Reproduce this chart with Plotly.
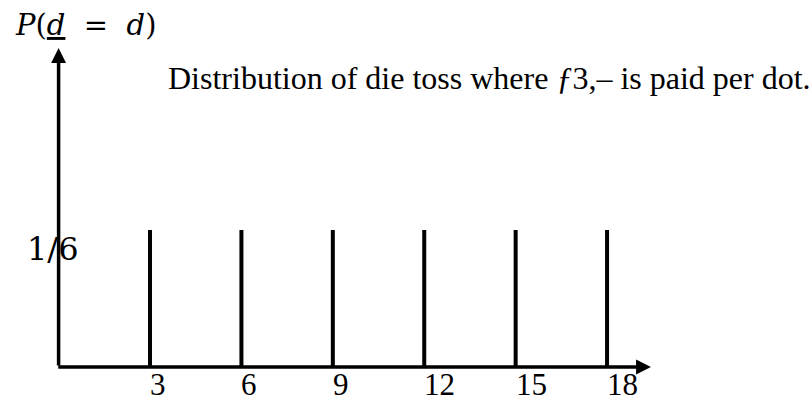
import plotly.graph_objects as go

# Payout outcomes (3 per dot of a fair die) and their probabilities
outcomes = [3, 6, 9, 12, 15, 18]
probabilities = [1 / 6, 1 / 6, 1 / 6, 1 / 6, 1 / 6, 1 / 6]
tick_labels = ["3", "6", "9", "12", "15", "18"]
prob_label = "1/6"
y_title = "<i>P</i>(<u><i>d</i></u>&nbsp; =&nbsp; <i>d</i>)"
caption = "Distribution of die toss where <i>ƒ</i>3,– is paid per dot."

W, H = 812, 399
SERIF = "Liberation Serif, Times New Roman, serif"
MATH = "DejaVu Serif, serif"

# vertical spikes for each outcome
xs, ys = [], []
for x, p in zip(outcomes, probabilities):
    xs += [x, x, None]
    ys += [0, p, None]

fig = go.Figure()
fig.add_trace(go.Scatter(x=xs, y=ys, mode="lines",
                         line=dict(color="black", width=4),
                         hoverinfo="skip", showlegend=False))

annotations = []
# axes drawn as arrows from the origin
x_end, y_end = 19.44, 0.388
annotations.append(dict(x=0, y=y_end, ax=0, ay=0, xref="x", yref="y",
                        axref="x", ayref="y", text="", showarrow=True,
                        arrowhead=2, arrowsize=0.85, arrowwidth=3.5,
                        arrowcolor="black", standoff=0, startstandoff=0))
annotations.append(dict(x=x_end, y=0, ax=-0.06, ay=0, xref="x", yref="y",
                        axref="x", ayref="y", text="", showarrow=True,
                        arrowhead=2, arrowsize=0.85, arrowwidth=3.5,
                        arrowcolor="black", standoff=0, startstandoff=0))

# tick labels, left-aligned at each spike
for x, t in zip(outcomes, tick_labels):
    annotations.append(dict(x=x, y=0, xref="x", yref="y", text=t,
                            showarrow=False, xanchor="left", yanchor="top",
                            xshift=-2, yshift=2,
                            font=dict(family=SERIF, size=31, color="black")))

# probability level label
annotations.append(dict(x=0, y=probabilities[0], xref="x", yref="y",
                        text=prob_label, showarrow=False, xanchor="center",
                        yanchor="middle", xshift=-6, yshift=-19,
                        font=dict(family=MATH, size=32, color="black")))

# vertical axis title
annotations.append(dict(x=13 / W, y=1 - 6 / H, xref="paper", yref="paper",
                        text=y_title, showarrow=False, xanchor="left",
                        yanchor="top",
                        font=dict(family=MATH, size=29, color="black")))

# caption
annotations.append(dict(x=166 / W, y=1 - 58 / H, xref="paper", yref="paper",
                        text=caption, showarrow=False, xanchor="left",
                        yanchor="top",
                        font=dict(family=SERIF, size=32, color="black")))

px_per_x = 30.47
x0_px = 58.6
px_per_y = 822.0
y0_px = 367.0

fig.update_layout(
    width=W, height=H,
    margin=dict(l=0, r=0, t=0, b=0),
    paper_bgcolor="white", plot_bgcolor="white",
    xaxis=dict(range=[-x0_px / px_per_x, (W - x0_px) / px_per_x],
               visible=False, fixedrange=True),
    yaxis=dict(range=[-(H - y0_px) / px_per_y, y0_px / px_per_y],
               visible=False, fixedrange=True),
    annotations=annotations,
)

fig.write_html("out.html")
